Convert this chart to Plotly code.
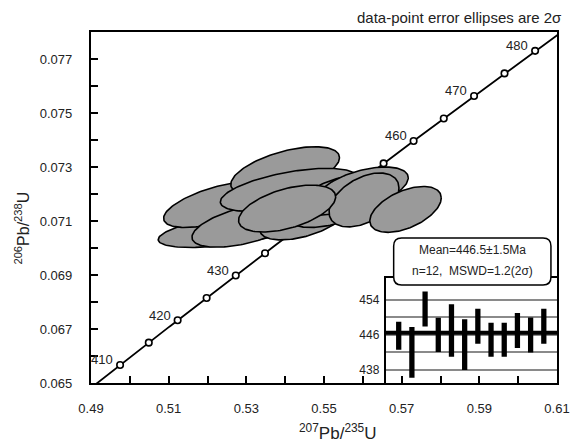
import numpy as np
import plotly.graph_objects as go

# ---------------- data ----------------
# 2-sigma error ellipses: centre (207Pb/235U, 206Pb/238U), 2s errors, correlation
ell_x = [0.5260, 0.5227, 0.5400, 0.5410, 0.5300, 0.5405, 0.5599, 0.5603, 0.5710, 0.5517, 0.5445, 0.5542]
ell_y = [0.07067, 0.07161, 0.07285, 0.07215, 0.07085, 0.07146, 0.07220, 0.07178, 0.07143, 0.07141, 0.07104, 0.07196]
ell_sx = [0.0187, 0.0140, 0.0140, 0.0177, 0.0140, 0.0125, 0.0118, 0.0090, 0.0092, 0.0105, 0.0110, 0.0105]
ell_sy = [0.00065, 0.00085, 0.00090, 0.00080, 0.00082, 0.00087, 0.00080, 0.00100, 0.00085, 0.00065, 0.00074, 0.00074]
ell_rho = [0.55, 0.60, 0.55, 0.55, 0.55, 0.50, 0.50, 0.45, 0.50, 0.50, 0.50, 0.50]
draw_order = [0, 1, 4, 2, 3, 10, 9, 11, 6, 7, 8, 5]

# concordia age markers (Ma)
marker_ages = [410, 415, 420, 425, 430, 435, 440, 445, 450, 455, 460, 465, 470, 475, 480]
label_ages = [410, 420, 430, 460, 470, 480]

# weighted mean inset: 206Pb/238U ages and 2s errors (Ma)
spot_age = [445.8, 442.0, 451.9, 446.0, 447.0, 443.8, 448.0, 444.9, 444.9, 447.0, 446.0, 448.0]
spot_err = [3.2, 5.8, 4.0, 3.9, 6.0, 5.8, 4.0, 3.9, 3.9, 4.0, 4.0, 4.0]
mean_age = 446.5
inset_ticks = [438, 442, 446, 450, 454]
inset_ticktext = ["438", "", "446", "", "454"]

x_ticks = [0.49, 0.51, 0.53, 0.55, 0.57, 0.59, 0.61]
y_ticks = [0.065, 0.067, 0.069, 0.071, 0.073, 0.075, 0.077]

L238 = 1.55125e-10
L235 = 9.8485e-10

def conc(t_ma):
    t = np.asarray(t_ma, dtype=float) * 1e6
    return np.exp(L235 * t) - 1, np.exp(L238 * t) - 1

FONT = "Liberation Sans, Arial, sans-serif"
fig = go.Figure()

# concordia curve (drawn beneath the ellipses)
t_curve = np.linspace(395, 495, 300)
cx, cy = conc(t_curve)
fig.add_trace(go.Scatter(x=cx, y=cy, mode="lines", line=dict(color="black", width=1.8),
                         showlegend=False, hoverinfo="skip"))
mx, my = conc(marker_ages)
fig.add_trace(go.Scatter(x=mx, y=my, mode="markers",
                         marker=dict(symbol="circle", size=6.5, color="white",
                                     line=dict(color="black", width=1.6)),
                         showlegend=False, hoverinfo="skip", cliponaxis=False))
lx, ly = conc(label_ages)
for a, xx, yy in zip(label_ages, lx, ly):
    fig.add_annotation(x=xx, y=yy, text=str(a), showarrow=False, xanchor="right",
                       yanchor="middle", xshift=-5, yshift=5,
                       font=dict(family=FONT, size=13, color="#222"))

# ellipses
tt = np.linspace(0, 2 * np.pi, 140)
for i in draw_order:
    ex = ell_x[i] + ell_sx[i] * np.cos(tt)
    ey = ell_y[i] + ell_sy[i] * (ell_rho[i] * np.cos(tt) + np.sqrt(1 - ell_rho[i] ** 2) * np.sin(tt))
    fig.add_trace(go.Scatter(x=ex, y=ey, mode="lines", fill="toself",
                             fillcolor="#9a9a9a", line=dict(color="black", width=1.6),
                             hoverinfo="skip", showlegend=False))

# inset bars
idx = list(range(1, len(spot_age) + 1))
fig.add_trace(go.Bar(x=idx, y=[2 * e for e in spot_err], base=[a - e for a, e in zip(spot_age, spot_err)],
                     width=0.4, marker=dict(color="black", line=dict(width=0)),
                     xaxis="x2", yaxis="y2", showlegend=False, hoverinfo="skip"))
fig.add_shape(type="line", xref="x2 domain", yref="y2", x0=0, x1=1, y0=mean_age, y1=mean_age,
              line=dict(color="black", width=4), layer="above")

# rounded legend box
bx0, bx1, by0, by1 = 0.6495, 0.987, 0.279, 0.413
rx, ry = 0.017, 0.023
path = (f"M {bx0+rx},{by0} L {bx1-rx},{by0} Q {bx1},{by0} {bx1},{by0+ry} "
        f"L {bx1},{by1-ry} Q {bx1},{by1} {bx1-rx},{by1} L {bx0+rx},{by1} "
        f"Q {bx0},{by1} {bx0},{by1-ry} L {bx0},{by0+ry} Q {bx0},{by0} {bx0+rx},{by0} Z")
fig.add_shape(type="path", xref="paper", yref="paper", path=path,
              fillcolor="white", line=dict(color="black", width=1.5), layer="above")
fig.add_annotation(xref="paper", yref="paper", x=(bx0 + bx1) / 2, y=0.379, xanchor="center",
                   yanchor="middle", text=f"Mean={mean_age}\u00b11.5Ma",
                   showarrow=False, font=dict(family=FONT, size=12, color="#222"))
fig.add_annotation(xref="paper", yref="paper", x=(bx0 + bx1) / 2, y=0.318, xanchor="center",
                   yanchor="middle", text="n=12,  MSWD=1.2(2\u03c3)",
                   showarrow=False, font=dict(family=FONT, size=12, color="#222"))

fig.add_annotation(xref="paper", yref="paper", x=1.015, y=1.04, text="data-point error ellipses are 2\u03c3",
                   showarrow=False, xanchor="right", yanchor="middle",
                   font=dict(family=FONT, size=15, color="#222"))

# axis titles
fig.add_annotation(xref="paper", yref="paper", x=0.53, y=-0.14, xanchor="center", yanchor="middle",
                   text="<sup>207</sup>Pb/<sup>235</sup>U", showarrow=False,
                   font=dict(family=FONT, size=17, color="#222"))
fig.add_annotation(xref="paper", yref="paper", x=-0.148, y=0.44, xanchor="center", yanchor="middle",
                   text="<sup>206</sup>Pb/<sup>238</sup>U", showarrow=False, textangle=-90,
                   font=dict(family=FONT, size=16, color="#222"))

fig.update_layout(
    width=572, height=443,
    margin=dict(l=91, r=15, t=32, b=60, autoexpand=False),
    paper_bgcolor="white", plot_bgcolor="rgba(0,0,0,0)",
    font=dict(family=FONT, color="#222"),
    showlegend=False,
    xaxis=dict(range=[0.49, 0.61], tickvals=x_ticks, ticktext=[f"{v:.2f}" for v in x_ticks],
               ticks="inside", ticklen=7, tickwidth=1.5, tickcolor="black",
               minor=dict(dtick=0.01, tick0=0.49, ticks="inside", ticklen=7, tickwidth=1.5, tickcolor="black"),
               showline=True, linecolor="black", linewidth=2.2, mirror=True, automargin=False,
               showgrid=False, zeroline=False, ticklabelstandoff=12,
               tickfont=dict(size=13)),
    yaxis=dict(range=[0.065, 0.078], tickvals=y_ticks, ticktext=[f"{v:.3f}" for v in y_ticks],
               ticks="inside", ticklen=7, tickwidth=1.5, tickcolor="black",
               minor=dict(dtick=0.001, tick0=0.065, ticks="inside", ticklen=7, tickwidth=1.5, tickcolor="black"),
               showline=True, linecolor="black", linewidth=2.2, mirror=True, automargin=False,
               showgrid=False, zeroline=False, ticklabelstandoff=14,
               tickfont=dict(size=13)),
    xaxis2=dict(domain=[0.632, 1.0], anchor="y2", range=[0, 13], showticklabels=False,
                ticks="", showgrid=False, zeroline=False, automargin=False,
                showline=True, linecolor="black", linewidth=1.5, mirror=True),
    yaxis2=dict(domain=[0.0, 0.299], anchor="x2", range=[435, 459], tickvals=inset_ticks,
                ticktext=inset_ticktext, ticks="", showgrid=True, gridcolor="#8a8a8a", gridwidth=1.5,
                zeroline=False, showline=True, linecolor="black", linewidth=1.5, mirror=True,
                automargin=False, tickfont=dict(size=12), ticklabelstandoff=2),
)

fig.write_html("out.html")
